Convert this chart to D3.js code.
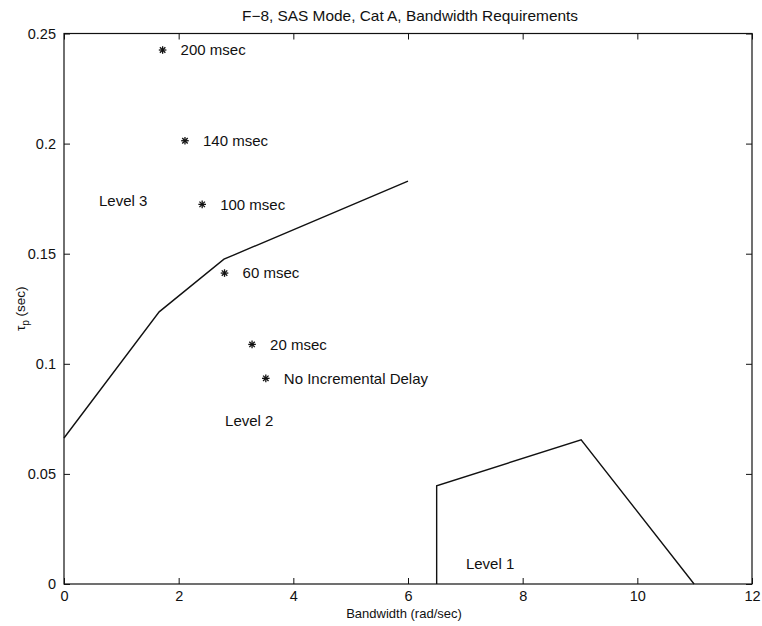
<!DOCTYPE html>
<html>
<head>
<meta charset="utf-8">
<script src="https://cdn.jsdelivr.net/npm/d3@7"></script>
<style>
  html, body { margin: 0; padding: 0; background: #fff; }
  svg text { font-family: "Liberation Sans", Arial, Helvetica, sans-serif; fill: #111; }
</style>
</head>
<body>
<svg id="chart" width="762" height="626"></svg>
<script>
// Level 2 / Level 3 boundary
const boundaryX = [0, 1.66, 2.79, 6.0];
const boundaryY = [0.0663, 0.1236, 0.1475, 0.183];

// Level 1 region outline
const level1X = [6.5, 6.5, 9.02, 10.99];
const level1Y = [0, 0.0446, 0.0655, 0];

// Measured points for each time delay
const delayLabels = ["200 msec", "140 msec", "100 msec", "60 msec", "20 msec", "No Incremental Delay"];
const delayBW = [1.72, 2.11, 2.41, 2.80, 3.28, 3.52];
const delayTau = [0.2425, 0.2013, 0.1724, 0.1412, 0.1088, 0.0934];

// Region labels
const regionLabels = ["Level 3", "Level 2", "Level 1"];
const regionX = [0.61, 2.81, 7.01];
const regionY = [0.174, 0.074, 0.009];

// Axis ticks
const xTicks = [0, 2, 4, 6, 8, 10, 12];
const yTicks = [0, 0.05, 0.1, 0.15, 0.2, 0.25];
const yTickLabels = ["0", "0.05", "0.1", "0.15", "0.2", "0.25"];

const svg = d3.select("#chart");
const plotLeft = 64, plotRight = 752, plotTop = 33.5, plotBottom = 584;

const x = d3.scaleLinear().domain([0, 12]).range([plotLeft, plotRight]);
const y = d3.scaleLinear().domain([0, 0.25]).range([plotBottom, plotTop]);

// plot box
svg.append("rect")
  .attr("x", plotLeft).attr("y", plotTop)
  .attr("width", plotRight - plotLeft).attr("height", plotBottom - plotTop)
  .attr("fill", "none").attr("stroke", "#111").attr("stroke-width", 1.2);

// inward ticks on all four sides
const tickLen = 6;
const bottomAxis = d3.axisBottom(x).tickValues(xTicks).tickSize(-tickLen).tickPadding(7).tickFormat(d3.format("d"));
const topAxis = d3.axisTop(x).tickValues(xTicks).tickSize(-tickLen).tickFormat("");
const leftAxis = d3.axisLeft(y).tickValues(yTicks).tickSize(-tickLen).tickPadding(8)
  .tickFormat((d, i) => yTickLabels[i]);
const rightAxis = d3.axisRight(y).tickValues(yTicks).tickSize(-tickLen).tickFormat("");

function styleAxis(g) {
  g.select(".domain").remove();
  g.selectAll(".tick line").attr("stroke", "#111").attr("stroke-width", 1);
  g.selectAll(".tick text").attr("font-size", 14.5).attr("fill", "#111")
    .style("font-family", "'Liberation Sans', Arial, sans-serif");
}
svg.append("g").attr("transform", `translate(0,${plotBottom})`).call(bottomAxis).call(styleAxis);
svg.append("g").attr("transform", `translate(0,${plotTop})`).call(topAxis).call(styleAxis);
svg.append("g").attr("transform", `translate(${plotLeft},0)`).call(leftAxis).call(styleAxis);
svg.append("g").attr("transform", `translate(${plotRight},0)`).call(rightAxis).call(styleAxis);

// boundary lines
const line = d3.line().x(d => x(d[0])).y(d => y(d[1]));
svg.append("path")
  .datum(boundaryX.map((v, i) => [v, boundaryY[i]]))
  .attr("d", line).attr("fill", "none").attr("stroke", "#111").attr("stroke-width", 1.4);
svg.append("path")
  .datum(level1X.map((v, i) => [v, level1Y[i]]))
  .attr("d", line).attr("fill", "none").attr("stroke", "#111").attr("stroke-width", 1.4);

// asterisk markers
const r = 3.8;
const pts = svg.append("g").selectAll("g.pt")
  .data(delayLabels.map((lab, i) => ({ lab, bw: delayBW[i], tau: delayTau[i] })))
  .join("g").attr("class", "pt")
  .attr("transform", d => `translate(${x(d.bw)},${y(d.tau)})`);
const spokes = [[0, -r, 0, r], [-r, 0, r, 0], [-r * 0.72, -r * 0.72, r * 0.72, r * 0.72], [-r * 0.72, r * 0.72, r * 0.72, -r * 0.72]];
spokes.forEach(s => {
  pts.append("line").attr("x1", s[0]).attr("y1", s[1]).attr("x2", s[2]).attr("y2", s[3])
    .attr("stroke", "#111").attr("stroke-width", 1.3);
});
pts.append("text").attr("x", 18).attr("dy", "0.35em").attr("font-size", 15).text(d => d.lab);

// region labels
svg.append("g").selectAll("text")
  .data(regionLabels.map((lab, i) => ({ lab, bx: regionX[i], ty: regionY[i] })))
  .join("text")
  .attr("x", d => x(d.bx)).attr("y", d => y(d.ty)).attr("dy", "0.35em")
  .attr("font-size", 15).text(d => d.lab);

// title and axis labels
svg.append("text").attr("x", 410).attr("y", 20.5)
  .attr("text-anchor", "middle").attr("font-size", 14.5)
  .attr("textLength", 336).attr("lengthAdjust", "spacingAndGlyphs")
  .text("F\u22128, SAS Mode, Cat A, Bandwidth Requirements");
svg.append("text").attr("x", 404).attr("y", 618)
  .attr("text-anchor", "middle").attr("font-size", 13)
  .text("Bandwidth (rad/sec)");
const yl = svg.append("text")
  .attr("transform", `translate(24.5,${(plotTop + plotBottom) / 2}) rotate(-90)`)
  .attr("text-anchor", "middle").attr("font-size", 13.5);
yl.append("tspan").text("\u03c4");
yl.append("tspan").attr("dy", 4).attr("font-size", 10).text("p");
yl.append("tspan").attr("dy", -4).text(" (sec)");
</script>
</body>
</html>
